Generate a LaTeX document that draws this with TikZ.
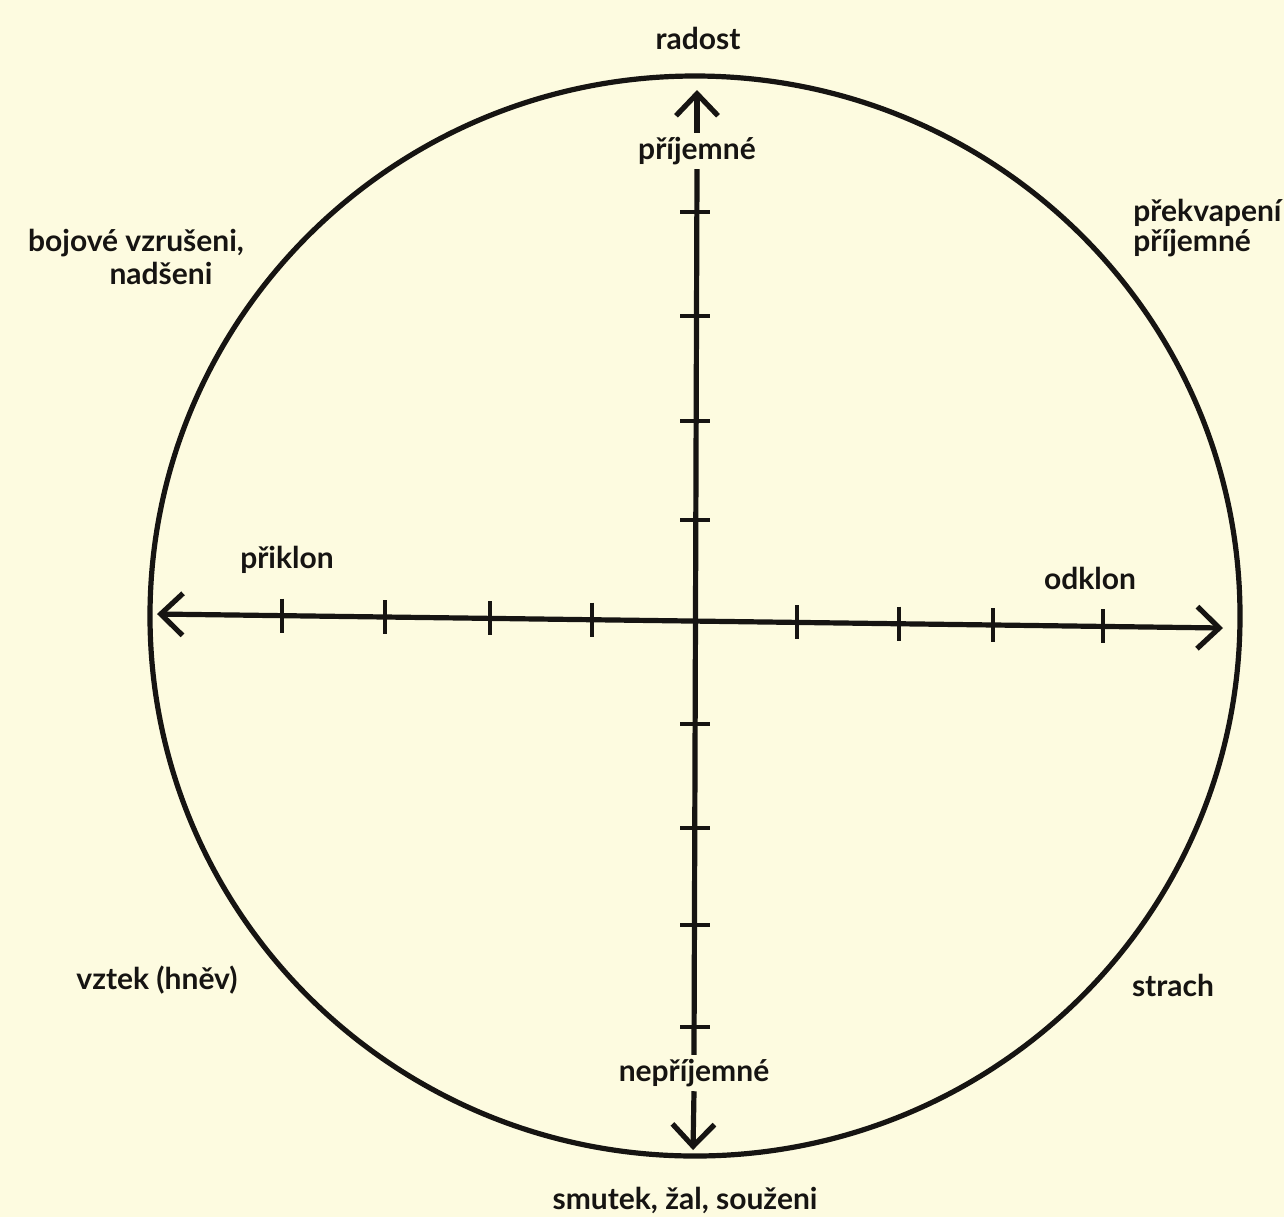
\documentclass[tikz,border=0pt]{standalone}
\usepackage{fontspec}
\setmainfont{Lato}
\usetikzlibrary{arrows.meta}
\definecolor{paper}{RGB}{253,251,224}
\definecolor{ink}{RGB}{22,20,18}
\begin{document}
\begin{tikzpicture}[x=0.5pt,y=-0.5pt,
  >={Straight Barb[length=11pt,width=21pt]},
  lbl/.style={text=ink,font=\bfseries\fontsize{15pt}{12.5pt}\selectfont,inner sep=0pt},
  axislabel/.style={lbl,fill=paper,inner sep=2pt},
  axisline/.style={draw=ink,line width=2.6pt},
  tickmark/.style={draw=ink,line width=2.3pt},
  rim/.style={draw=ink,line width=2.6pt}]
% background / bounding box
\fill[paper] (0,0) rectangle (1284,1217);
\useasboundingbox (0,0) rectangle (1284,1217);

% outer circle
\draw[rim] (695,616) ellipse [x radius=272.5pt, y radius=270pt];

% vertical axis
\coordinate (top) at (697,90);
\coordinate (bot) at (693,1150);
\node[axislabel] (pri) at (697,151) {příjemné};
\node[axislabel] (nepri) at (694,1073) {nepříjemné};
\draw[axisline,->] (pri.north) -- (top);
\draw[axisline] (pri.south) -- (nepri.north);
\draw[axisline,->] (nepri.south) -- (bot);
\foreach \y in {212,316,421,520,724,828,925,1027}
  \draw[tickmark] (695,\y) ++(-15,0) -- ++(30,0);

% horizontal axis
\coordinate (L) at (157,614);
\coordinate (R) at (1223,628);
\draw[axisline,<->] (L) -- (R);
\foreach \x/\y in {282/615.6,385/617,490/618.4,592/619.7,797/622.4,899/623.7,993/625,1103/626.4}
  \draw[tickmark] (\x,\y) ++(0,-17) -- ++(0,34);

% labels
\node[lbl] (radost) at (698,38) {radost};
\node[lbl,align=left,anchor=west] (prekv) at (1133,228) {překvapení\\příjemné};
\node[lbl] (boj1) at (136,243) {bojové vzrušeni,};
\node[lbl] (boj2) at (161,273) {nadšeni};
\node[lbl] (priklon) at (287,560) {přiklon};
\node[lbl] (odklon) at (1090,578) {odklon};
\node[lbl] (vztek) at (157,980) {vztek (hněv)};
\node[lbl] (strach) at (1173,985) {strach};
\node[lbl] (smutek) at (685,1200) {smutek, žal, souženi};
\end{tikzpicture}
\end{document}
